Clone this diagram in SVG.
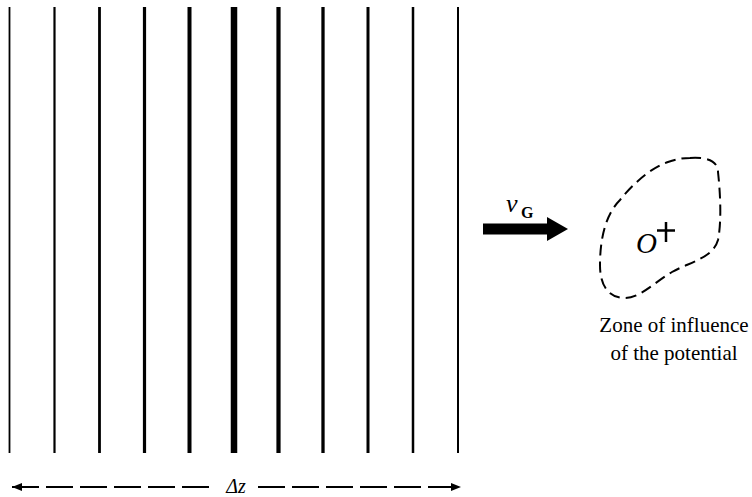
<svg xmlns="http://www.w3.org/2000/svg" width="752" height="497" viewBox="0 0 752 497">
<style>
.ln{stroke:#000;fill:none}
.t{font-family:"Liberation Serif","DejaVu Serif","Times New Roman",serif;fill:#000}
.dash{stroke:#000;stroke-width:1.8;fill:none;stroke-dasharray:27 7}
</style>
<defs>
<marker id="ah" viewBox="0 0 10 8" refX="10" refY="4" markerWidth="10" markerHeight="8" markerUnits="userSpaceOnUse" orient="auto-start-reverse">
<path d="M0,0 L10,4 L0,8 Z" fill="#000"/>
</marker>
</defs>
<rect width="752" height="497" fill="#fff"/>
<g id="wavefronts">
<line class="ln" x1="9.5" y1="7" x2="9.5" y2="453" stroke-width="1.8"/>
<line class="ln" x1="54.5" y1="7" x2="54.5" y2="453" stroke-width="2.2"/>
<line class="ln" x1="99.5" y1="7" x2="99.5" y2="453" stroke-width="2.8"/>
<line class="ln" x1="144.5" y1="7" x2="144.5" y2="453" stroke-width="3.2"/>
<line class="ln" x1="189.5" y1="7" x2="189.5" y2="453" stroke-width="4"/>
<line class="ln" x1="234" y1="7" x2="234" y2="453" stroke-width="6.5"/>
<line class="ln" x1="278.5" y1="7" x2="278.5" y2="453" stroke-width="4.2"/>
<line class="ln" x1="323" y1="7" x2="323" y2="453" stroke-width="3.3"/>
<line class="ln" x1="368" y1="7" x2="368" y2="453" stroke-width="3"/>
<line class="ln" x1="413" y1="7" x2="413" y2="453" stroke-width="2.5"/>
<line class="ln" x1="458" y1="7" x2="458" y2="453" stroke-width="2"/>
</g>
<g id="dz">
<line class="dash" x1="12" y1="487" x2="215" y2="487" marker-start="url(#ah)"/>
<line class="dash" x1="258" y1="487" x2="461" y2="487" marker-end="url(#ah)"/>
<text class="t" x="236" y="493" font-size="20" font-style="italic" text-anchor="middle">Δz</text>
</g>
<g id="vg">
<rect x="483" y="223.5" width="65" height="11" fill="#000"/>
<polygon points="547,217 568,229 547,241" fill="#000"/>
<text class="t" x="506" y="212" font-size="26" font-style="italic">v</text>
<text class="t" x="521" y="218" font-size="16" font-weight="bold">G</text>
</g>
<g id="zone">
<path d="M690,158 C705,157 718,160 718,172 C720,190 722,220 718,240 C713,258 690,262 672,272 C655,282 640,298 625,298 C608,298 600,285 600,265 C600,240 605,215 620,200 C632,185 650,168 668,162 C677,159 683,158 690,158 Z" stroke="#000" stroke-width="2" fill="none" stroke-dasharray="11 6"/>
<text class="t" x="636" y="253" font-size="29" font-style="italic">O</text>
<line class="ln" x1="657" y1="230.5" x2="675" y2="230.5" stroke-width="2.5"/>
<line class="ln" x1="666" y1="222" x2="666" y2="242" stroke-width="2.5"/>
<text class="t" x="674" y="332" font-size="21" text-anchor="middle">Zone of influence</text>
<text class="t" x="674" y="360" font-size="21" text-anchor="middle">of the potential</text>
</g>
</svg>
